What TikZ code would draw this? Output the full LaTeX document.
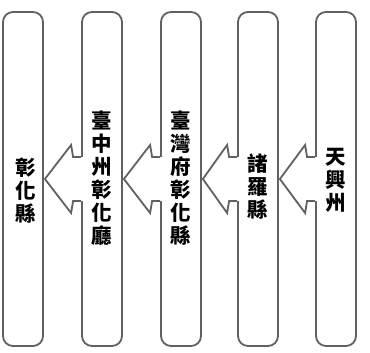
\documentclass[tikz,border=0pt]{standalone}
\usepackage{fontspec}
\usetikzlibrary{calc}
\newfontfamily\cjk{Noto Sans CJK TC}
\begin{document}
\begin{tikzpicture}[x=1pt,y=-1pt,
 box/.style={draw=black!62, line width=1.8pt, fill=white, rounded corners=10pt,
   minimum width=40pt, minimum height=334pt, inner sep=0pt},
 lbl/.style={font=\cjk\bfseries\fontsize{20.5}{23}\selectfont, align=center, inner sep=0pt},
 arr/.style={draw=black!62, line width=1.8pt, line join=miter}]
\useasboundingbox (0,0) rectangle (370,353);
\node[box] (b1) at (23,179) {};
\node[box] (b2) at (102,179) {};
\node[box] (b3) at (181,179) {};
\node[box] (b4) at (258,179) {};
\node[box] (b5) at (336,179) {};
\foreach \a/\b in {b2/b1,b3/b2,b4/b3,b5/b4}{
  \fill[white] ($(\a.west)+(2,-22)$) -- ($(\a.west)+(-8,-22)$) -- ($(\a.west)+(-10,-34)$)
    -- ($(\b.east)+(1,0)$) -- ($(\a.west)+(-10,34)$) -- ($(\a.west)+(-8,22)$)
    -- ($(\a.west)+(2,22)$) -- cycle;
  \draw[arr] ($(\a.west)+(0,-22)$) -- ($(\a.west)+(-8,-22)$) -- ($(\a.west)+(-10,-34)$)
    -- ($(\b.east)+(1,0)$) -- ($(\a.west)+(-10,34)$) -- ($(\a.west)+(-8,22)$)
    -- ($(\a.west)+(0,22)$);
}
\node[lbl] (t1) at (26,191) {彰\\化\\縣};
\node[lbl] (t2) at (102,178) {臺\\中\\州\\彰\\化\\廳};
\node[lbl] (t3) at (181,178) {臺\\灣\\府\\彰\\化\\縣};
\node[lbl] (t4) at (258,187) {諸\\羅\\縣};
\node[lbl] (t5) at (336,180) {天\\興\\州};
\end{tikzpicture}
\end{document}
